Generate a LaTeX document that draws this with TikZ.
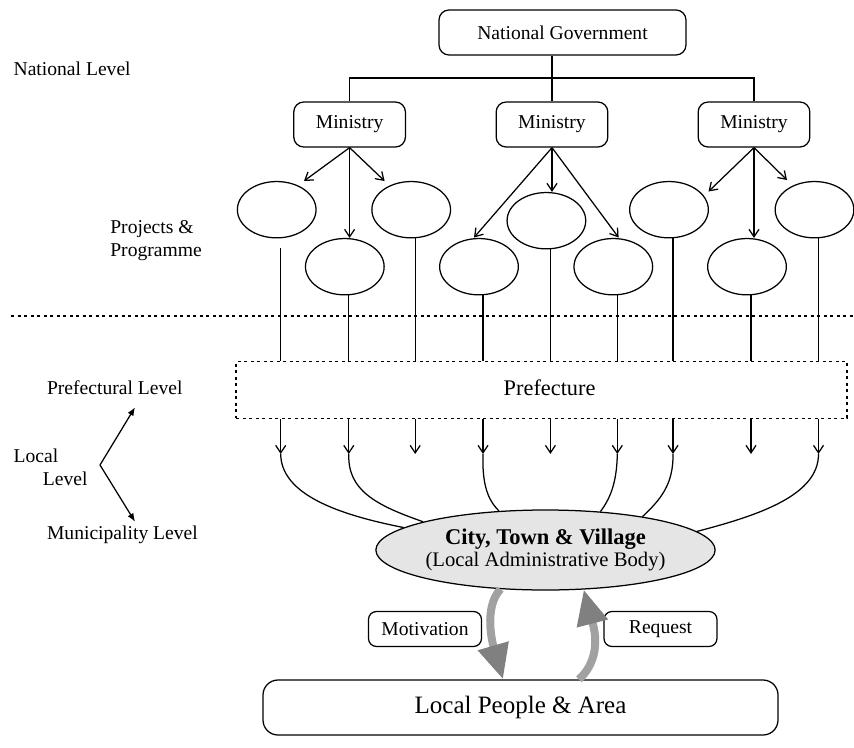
\documentclass[tikz,border=0pt]{standalone}
\usepackage{fontspec}
\setmainfont{Liberation Serif}
\usetikzlibrary{arrows.meta,shapes.geometric}

\definecolor{cityfill}{gray}{0.9}
\definecolor{shaftgray}{gray}{0.63}
\definecolor{headgray}{gray}{0.5}

\tikzset{
  txt/.style={font=\fontsize{11.76}{13.8}\selectfont, inner sep=0pt},
  govbox/.style={txt, draw, rounded corners=6pt, line width=0.75pt,
    minimum width=148.2pt, minimum height=27pt},
  minbox/.style={govbox, minimum width=67pt},
  proj/.style={draw, ellipse, line width=0.75pt, inner sep=0pt,
    minimum width=47.2pt, minimum height=33.8pt},
  prefbox/.style={draw, line width=0.75pt, dash pattern=on 1.8pt off 2.1pt,
    minimum width=366.6pt, minimum height=34pt, inner sep=0pt},
  citynode/.style={draw, ellipse, line width=0.75pt, fill=cityfill, inner sep=0pt,
    minimum width=195.6pt, minimum height=48pt, align=center},
  tagbox/.style={txt, draw, rounded corners=4.8pt, line width=0.75pt,
    minimum width=67.8pt, minimum height=21pt},
  peoplebox/.style={draw, rounded corners=9pt, line width=0.75pt,
    minimum width=309pt, minimum height=33pt, inner sep=0pt,
    font=\fontsize{15}{18}\selectfont},
  link/.style={line width=0.75pt},
  arr/.style={link, -{Straight Barb[length=4.5pt,width=6pt]}},
  levelarr/.style={link, -{Latex[length=5pt,width=4pt]}},
  dotline/.style={line width=0.75pt, dash pattern=on 1.8pt off 2.1pt},
  flow/.style={line width=4.8pt, draw=shaftgray,
    -{Triangle[length=21pt,width=18pt,color=headgray]}},
}

\begin{document}
\begin{tikzpicture}[x=0.6pt,y=-0.6pt]
\useasboundingbox (0,0) rectangle (854,747);

% level labels on the left
\node[txt, anchor=west] (natlvl) at (13.3,69) {National Level};
\node[txt, anchor=west, align=left] (projlvl) at (110,241) {Projects \&\\Programme};
\node[txt, anchor=west] (preflvl) at (46.7,387.3) {Prefectural Level};
\node[txt, anchor=west, align=left] (loclvl) at (13.3,467.7) {Local\\\hspace*{17.6pt}Level};
\node[txt, anchor=west] (munlvl) at (46.7,535) {Municipality Level};
\coordinate (lv) at (100,465);
\coordinate (lvup) at (135,407.3);
\coordinate (lvdown) at (135,521.7);
\draw[levelarr] (lv) -- (lvup);
\draw[levelarr] (lv) -- (lvdown);

% national government and ministries
\node[govbox] (ng) at (562.5,32.5) {National Government};
\node[minbox] (m1) at (349.6,124.5) {Ministry};
\node[minbox] (m2) at (552,124.5) {Ministry};
\node[minbox] (m3) at (754,124.5) {Ministry};
\coordinate (bar) at (552,78);
\draw[link] (ng.south -| m2.north) -- (m2.north);
\draw[link] (m1.north) |- (bar) -| (m3.north);

% projects and programmes
\node[proj] (e1) at (276.7,209.7) {};
\node[proj] (e2) at (344.8,266.7) {};
\node[proj] (e3) at (411.2,209.7) {};
\node[proj] (e4) at (479,266.7) {};
\node[proj] (e5) at (546.4,220.7) {};
\node[proj] (e6) at (613.3,266.7) {};
\node[proj] (e7) at (669,209.7) {};
\node[proj] (e8) at (747,266.7) {};
\node[proj] (e9) at (814.5,209.7) {};

\coordinate (t1a) at (304,181);
\coordinate (t1b) at (384.6,181);
\coordinate (t2a) at (474,237.5);
\coordinate (t2b) at (618.6,237.5);
\coordinate (t3a) at (708.5,191.5);
\coordinate (t3b) at (787,180);
\draw[arr] (m1.south) -- (t1a);
\draw[arr] (m1.south) -- (t1b);
\draw[arr] (m1.south) -- (m1.south |- e2.north);
\draw[arr] (m2.south) -- (t2a);
\draw[arr] (m2.south) -- (t2b);
\draw[arr] (m2.south) -- (m2.south |- e5.north);
\draw[arr] (m3.south) -- (t3a);
\draw[arr] (m3.south) -- (t3b);
\draw[arr] (m3.south) -- (m3.south |- e8.north);

% national / local divider
\coordinate (divl) at (11,316);
\coordinate (divr) at (854,316);
\draw[dotline] (divl) -- (divr);

% prefecture
\node[prefbox] (pref) at (541.5,390) {};
\node[txt, font=\fontsize{13.4}{16}\selectfont] (preftxt) at (549.6,388) {Prefecture};

\draw[link] ([xshift=2.4pt,yshift=-6pt]e1.south) -- ([xshift=2.4pt]e1.south |- pref.north);
\foreach \e in {e2,e3,e4,e5,e6,e7,e8,e9}
  \draw[link] ([xshift=2.4pt]\e.south) -- ([xshift=2.4pt]\e.south |- pref.north);
\foreach \e/\i in {e1/1,e2/2,e3/3,e4/4,e5/5,e6/6,e7/7,e8/8,e9/9}
  \draw[arr] ([xshift=2.4pt]\e.south |- pref.south) -- ++(0,35) coordinate (d\i);

% city, town and village
\node[citynode] (city) at (545.5,550)
  {{\fontsize{13.5}{16}\selectfont\bfseries City, Town \& Village}\\[1.5pt]
   {\fontsize{12.4}{15}\selectfont (Local Administrative Body)}};

\draw[link] (d1) .. controls (281,495) and (340,515) .. (city.171);
\draw[link] (d2) .. controls (347.5,490) and (375,505) .. (city.167.6);
\draw[link] (d4) .. controls (482,485) and (488,500) .. (city.140.7);
\draw[link] (d6) .. controls (616.8,485) and (609,500) .. (city.35.1);
\draw[link] (d7) .. controls (673.5,485) and (660,500) .. (city.19.8);
\draw[link] (d9) .. controls (818.6,495) and (760,515) .. (city.7.9);

% local people and the two-way flow
\node[tagbox] (motiv) at (425,629) {Motivation};
\node[tagbox] (req) at (660.5,629) {Request};
\node[peoplebox] (people) at (520.5,707.5) {Local People \& Area};

\draw[flow] (city.221) .. controls (483,608) and (493,645) .. ([xshift=-10.5pt]people.north);
\draw[flow] ([xshift=35pt]people.north) .. controls (606,655) and (591,618) .. (city.314);
\end{tikzpicture}
\end{document}
